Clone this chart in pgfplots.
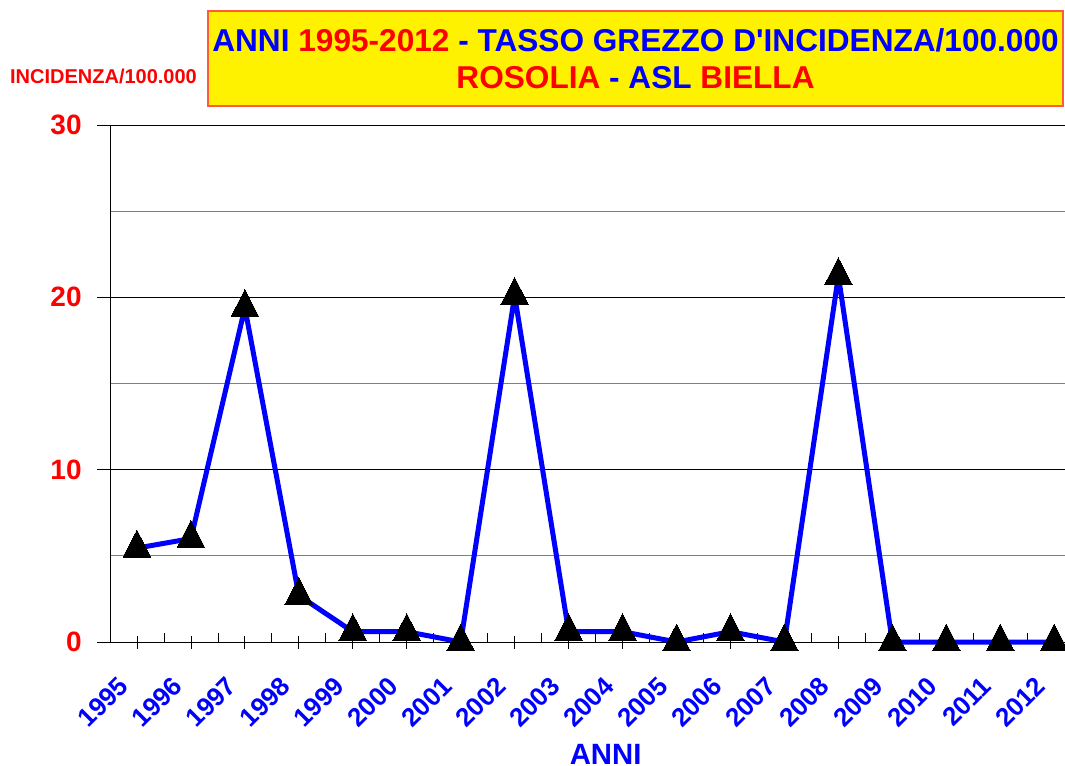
\documentclass[border=0pt]{standalone}
\usepackage{fontspec}
\setmainfont{Liberation Sans}
\usepackage{pgfplots}
\pgfplotsset{compat=1.18}
\definecolor{boxborder}{RGB}{255,90,60}
\begin{document}
\begin{tikzpicture}
\begin{axis}[
  at={(0,0)}, anchor=south west,
  scale only axis, width=716.25pt, height=387.75pt,
  xmin=-0.5, xmax=17.2, ymin=0, ymax=30,
  axis x line=bottom, axis y line=left, axis line style={-, black, line width=0.6pt},
  clip=false,
  xtick={0,1,2,3,4,5,6,7,8,9,10,11,12,13,14,15,16,17},
  xticklabels={1995,1996,1997,1998,1999,2000,2001,2002,2003,2004,2005,2006,2007,2008,2009,2010,2011,2012},
  minor xtick={0.5,1.5,2.5,3.5,4.5,5.5,6.5,7.5,8.5,9.5,10.5,11.5,12.5,13.5,14.5,15.5,16.5},
  ytick={0,10,20,30}, minor ytick={5,15,25},
  xtick align=center, ytick align=outside,
  major tick length=9.75pt, minor tick length=6.75pt,
  major tick style={black, line width=0.6pt},
  minor x tick style={black, line width=0.6pt, yshift=3.375pt},
  minor y tick style={draw=none},
  ymajorgrids, yminorgrids,
  major grid style={black, line width=0.7pt},
  minor grid style={gray, line width=0.8pt},
  /pgf/number format/assume math mode=true,
  yticklabel style={font=\fontsize{21}{21}\selectfont\bfseries, text=red, xshift=-8pt},
  xticklabel style={font=\fontsize{19.5}{19.5}\selectfont\bfseries, text=blue, xshift=-15pt, yshift=-15pt, rotate=45, anchor=north east},
  xlabel={ANNI},
  xlabel style={at={(axis description cs:0.519,-0.217)}, anchor=center, font=\fontsize{22}{22}\selectfont\bfseries, text=blue},
]
\addplot[blue, line width=3.75pt, line join=round,
  mark=triangle*, mark size=12pt,
  mark options={solid, fill=black, draw=black, line width=0pt, yscale=1.12}]
coordinates {
(0,5.45) (1,6.0) (2,19.4) (3,2.7) (4,0.6) (5,0.6) (6,0) (7,20.1) (8,0.6)
(9,0.6) (10,0) (11,0.6) (12,0) (13,21.25) (14,0) (15,0) (16,0) (17,0)
};
\node[fill=yellow, draw=boxborder, line width=1pt, minimum width=641.25pt, minimum height=71.25pt,
  align=center, inner sep=0pt, font=\fontsize{23.7}{27.75}\selectfont\bfseries]
  at (axis description cs:0.5503,1.1286)
  {{\color{blue}ANNI} {\color{red}1995-2012} {\color{blue}- TASSO GREZZO D\textquotesingle INCIDENZA/100.000}\\
   {\color{red}ROSOLIA} {\color{blue}- ASL} {\color{red}BIELLA}};
\node[font=\fontsize{15}{15}\selectfont\bfseries, text=red, anchor=center]
  at (axis description cs:-0.0068,1.0948) {INCIDENZA/100.000};
\end{axis}
\pgfresetboundingbox
\path (-82.5pt,-92.25pt) rectangle (716.25pt,481.5pt);
\end{tikzpicture}
\end{document}
